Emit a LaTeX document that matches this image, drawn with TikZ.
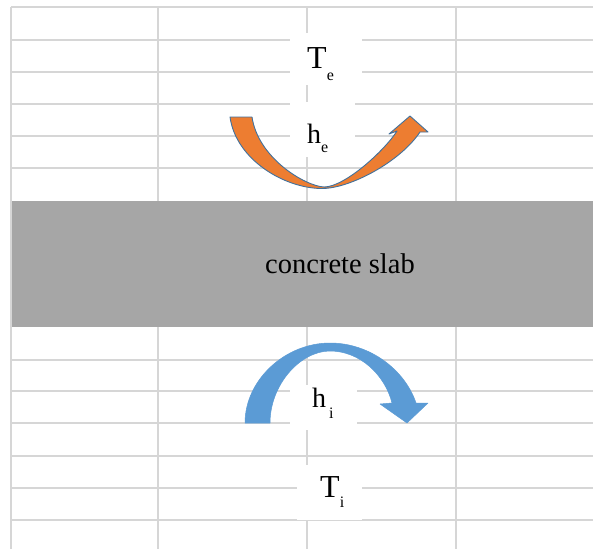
\documentclass[tikz,border=0pt]{standalone}
\usepackage{fontspec}
\setmainfont{Liberation Serif}
\definecolor{gridc}{HTML}{D6D6D6}
\definecolor{slabc}{HTML}{A6A6A6}
\definecolor{orangec}{HTML}{ED7D31}
\definecolor{bluec}{HTML}{5B9BD5}
\definecolor{outc}{HTML}{41719C}
\newcommand{\mysub}[2]{\raisebox{-#1pt}{\fontsize{16}{16}\selectfont #2}}
\tikzset{
  gridline/.style={draw=gridc, line width=1.8pt},
  slabbox/.style={fill=slabc, inner sep=0pt, anchor=north west},
  labelbg/.style={fill=white},
  bigT/.style={anchor=base west, inner sep=0pt, font=\fontsize{32}{32}\selectfont},
  smallh/.style={anchor=base west, inner sep=0pt, font=\fontsize{28}{28}\selectfont},
  slabtext/.style={anchor=base west, inner sep=0pt, font=\fontsize{28.5}{28.5}\selectfont},
  orangearrow/.style={fill=orangec, draw=outc, line width=0.9pt, line join=round},
  bluearrow/.style={fill=bluec, draw=bluec, line width=0.5pt, line join=round}
}
\begin{document}
\begin{tikzpicture}[x=1pt,y=-1pt]
\useasboundingbox (0,0) rectangle (593,549);
\fill[white] (0,0) rectangle (593,549);
% grid
\foreach \y in {7,40,72,104,136,168,360,391,423,456,488,520}
  \draw[gridline] (11,\y) -- (593,\y);
\foreach \x in {11,158,307,456}
  \draw[gridline] (\x,7) -- (\x,549);
% slab
\node[slabbox, minimum width=581pt, minimum height=126pt] (slab) at (12,201) {};
\node[slabtext] (slabtxt) at (265,273) {concrete slab};
% label backgrounds
\fill[labelbg] (290,33) rectangle (362,85);
\fill[labelbg] (290,102) rectangle (355,157);
\fill[labelbg] (290,385) rectangle (357,430);
\fill[labelbg] (297,465) rectangle (362,520);
% orange arrow
\path[orangearrow] (230,117) .. controls (236,160) and (285,188.5) .. (322,188.5)
  .. controls (350,188.5) and (400,162) .. (420,132)
  -- (428,132) -- (410,116) -- (389,134) -- (397,131)
  .. controls (385,150) and (345,187) .. (324,187)
  .. controls (305,186) and (258,158) .. (252,117) -- cycle;
% blue arrow
\path[bluearrow] (245,423) .. controls (245,380) and (285,343) .. (330,343)
  .. controls (370,343) and (405,370) .. (416,403)
  -- (428,403) -- (407,423) -- (380,404) -- (392,403)
  .. controls (385,375) and (360,351) .. (330,351)
  .. controls (300,351) and (270,385) .. (270,423) -- cycle;
% labels
\node[bigT] (te) at (307,68) {T\mysub{12}{e}};
\node[smallh] (he) at (307,143) {h\mysub{9}{e}};
\node[smallh] (hi) at (312,407) {h\hspace{3pt}\mysub{11}{i}};
\node[bigT] (ti) at (320,497) {T\mysub{10}{i}};
\end{tikzpicture}
\end{document}
